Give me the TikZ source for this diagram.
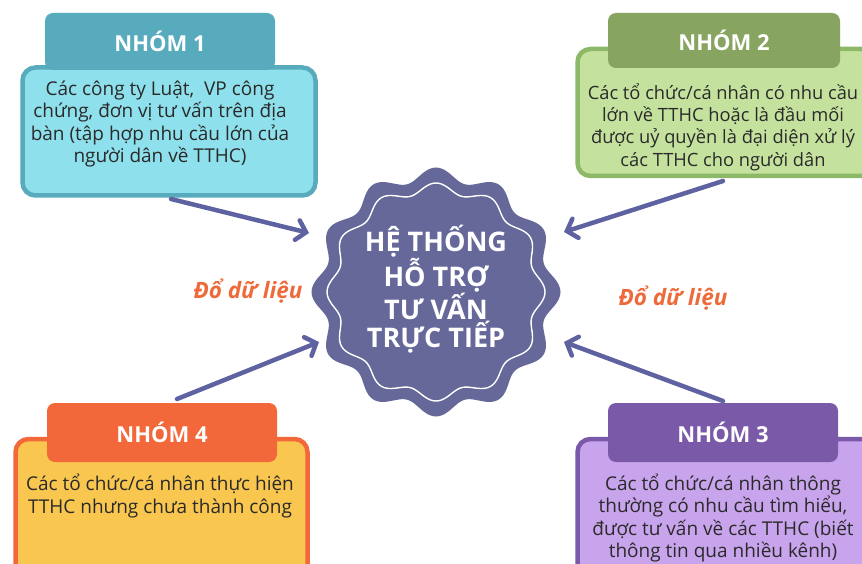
\documentclass[tikz,border=0pt]{standalone}
\usepackage{fontspec}
\setmainfont{Open Sans}
\usetikzlibrary{arrows.meta}
\definecolor{tabA}{HTML}{57ABBC}
\definecolor{bodyA}{HTML}{8EE0EC}
\definecolor{tabB}{HTML}{87A561}
\definecolor{bodyB}{HTML}{C4E29E}
\definecolor{lineB}{HTML}{8CB868}
\definecolor{tabC}{HTML}{7A5AA8}
\definecolor{bodyC}{HTML}{C8A4EC}
\definecolor{tabD}{HTML}{F2683A}
\definecolor{bodyD}{HTML}{F9C74F}
\definecolor{hubc}{HTML}{66689A}
\definecolor{arrc}{HTML}{5F62A0}
\definecolor{lblc}{HTML}{EE6A3A}
\definecolor{txt}{HTML}{2A2A2A}
\tikzset{
  bodybox/.style={rectangle, rounded corners=13pt, line width=4.5pt, inner sep=0pt},
  tabbox/.style={rectangle, rounded corners=8pt, inner sep=0pt, text=white,
    font=\fontsize{22}{26}\selectfont\bfseries},
  bodytext/.style={align=center, text=txt, inner sep=0pt, font=\fontsize{19}{22.5}\selectfont},
  lbl/.style={text=lblc, inner sep=0pt, font=\fontsize{22.5}{26}\selectfont\bfseries\itshape},
  arr/.style={draw=arrc, line width=4.5pt, line cap=round,
    -{Straight Barb[length=9pt,width=20pt,line cap=round]}},
}
\begin{document}
\begin{tikzpicture}[x=1pt,y=-1pt]
\useasboundingbox (0,0) rectangle (862,564);
\clip (0,0) rectangle (862,564);
\fill[white] (0,0) rectangle (862,564);

% group 1
\node[bodybox, fill=bodyA, draw=tabA, minimum width=293pt, minimum height=128pt] (b1) at (169,131.5) {};
\node[tabbox, fill=tabA, minimum width=230pt, minimum height=57pt] (t1) at (160,41.5) {NHÓM 1};
\node[bodytext] (x1) at (160,124) {Các công ty Luật,\ \ VP công\\chứng, đơn vị tư vấn trên địa\\bàn (tập hợp nhu cầu lớn của\\người dân về TTHC)};

% group 2
\node[bodybox, fill=bodyB, draw=lineB, minimum width=297pt, minimum height=127pt] (b2) at (726,112.5) {};
\node[tabbox, fill=tabB, minimum width=232pt, minimum height=55pt] (t2) at (724,40.5) {NHÓM 2};
\node[bodytext, font=\fontsize{18.3}{22.3}\selectfont] (x2) at (723,127) {Các tổ chức/cá nhân có nhu cầu\\lớn về TTHC hoặc là đầu mối\\được uỷ quyền là đại diện xử lý\\các TTHC cho người dân};

% group 3
\node[bodybox, fill=bodyC, draw=tabC, minimum width=297pt, minimum height=140pt] (b3) at (726,509) {};
\node[tabbox, fill=tabC, minimum width=230pt, minimum height=59pt] (t3) at (723,432.5) {NHÓM 3};
\node[bodytext] (x3) at (723,518) {Các tổ chức/cá nhân thông\\thường có nhu cầu tìm hiểu,\\được tư vấn về các TTHC (biết\\thông tin qua nhiều kênh)};

% group 4
\node[bodybox, fill=bodyD, draw=tabD, minimum width=292pt, minimum height=140pt] (b4) at (161.5,509) {};
\node[tabbox, fill=tabD, minimum width=230pt, minimum height=59pt] (t4) at (162,432.5) {NHÓM 4};
\node[bodytext] (x4) at (160,496) {Các tổ chức/cá nhân thực hiện\\TTHC nhưng chưa thành công};

% hub
\fill[hubc, shift={(436,292)}] plot[domain=0:358.5, samples=240, smooth cycle] (\x:{118+6.5*cos(12*\x)});
\draw[white, line width=1.4pt, shift={(436,292)}] plot[domain=0:358.5, samples=240, smooth cycle] (\x:{104+5*cos(12*\x)});
\node[circle, minimum size=236pt, inner sep=0pt] (hub) at (436,292) {};
\node[align=center, text=white, inner sep=0pt, font=\fontsize{27}{27.5}\selectfont\bfseries] (ht) at (436,289) {HỆ THỐNG\\HỖ TRỢ\\TƯ VẤN\\TRỰC TIẾP};

% labels
\node[lbl] (l1) at (248,291) {Đổ dữ liệu};
\node[lbl] (l2) at (673,298) {Đổ dữ liệu};

% arrows
\coordinate (s1) at (171,199);
\coordinate (e1) at (309,233);
\coordinate (s2) at (723,181);
\coordinate (e2) at (564,232);
\coordinate (s3) at (723,401);
\coordinate (e3) at (564,342);
\coordinate (s4) at (177,399);
\coordinate (e4) at (319,342);
\draw[arr] (s1) -- (e1);
\draw[arr] (s2) -- (e2);
\draw[arr] (s3) -- (e3);
\draw[arr] (s4) -- (e4);
\end{tikzpicture}
\end{document}
